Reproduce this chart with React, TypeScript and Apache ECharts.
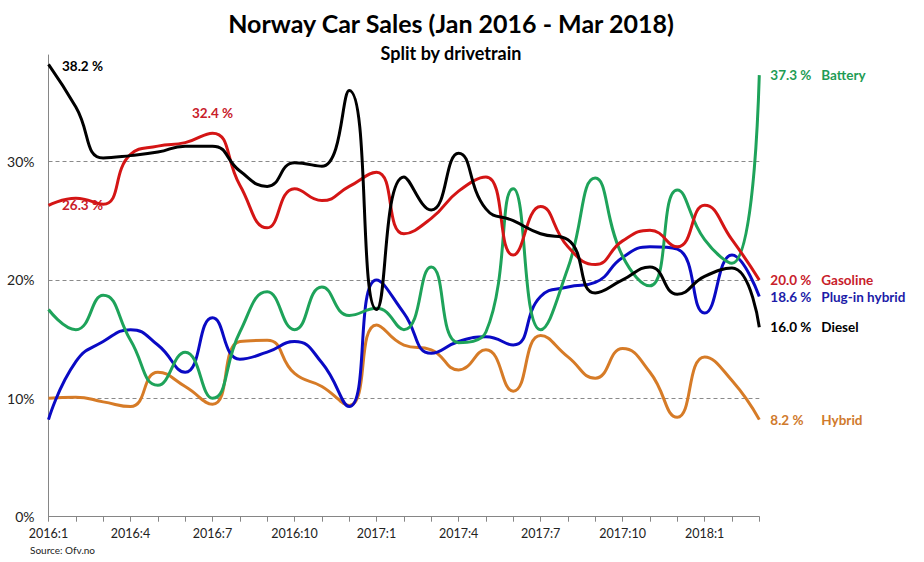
import React, { useEffect, useRef } from "react";
import * as echarts from "echarts";

const months = [
  "2016:1", "2016:2", "2016:3", "2016:4", "2016:5", "2016:6", "2016:7", "2016:8", "2016:9",
  "2016:10", "2016:11", "2016:12", "2017:1", "2017:2", "2017:3", "2017:4", "2017:5", "2017:6",
  "2017:7", "2017:8", "2017:9", "2017:10", "2017:11", "2017:12", "2018:1", "2018:2", "2018:3",
];

// Market share by drivetrain, percent of monthly new-car sales
const diesel = [38.2, 34.6, 30.3, 30.5, 30.8, 31.3, 31.3, 29.2, 27.9, 29.9, 29.6, 36.0, 17.5, 28.7, 25.9, 30.7, 26.0, 25.0, 23.9, 23.4, 18.9, 20.0, 21.1, 18.8, 20.3, 21.0, 16.0];
const gasoline = [26.3, 26.9, 26.4, 30.6, 31.3, 31.6, 32.4, 28.0, 24.4, 27.7, 26.7, 27.9, 29.1, 23.9, 25.2, 27.5, 28.7, 22.1, 26.2, 22.8, 21.3, 23.3, 24.2, 22.8, 26.3, 23.4, 20.0];
const plugin = [8.2, 13.1, 14.8, 15.8, 14.5, 12.2, 16.8, 13.3, 13.9, 14.8, 13.0, 9.3, 20.0, 17.2, 13.8, 14.8, 15.2, 14.5, 18.6, 19.4, 19.8, 21.9, 22.8, 22.6, 17.2, 22.1, 18.6];
const battery = [17.5, 15.8, 18.7, 14.9, 11.1, 13.9, 10.0, 15.6, 19.0, 15.8, 19.4, 17.0, 17.6, 15.8, 21.1, 14.7, 15.6, 27.7, 15.8, 21.0, 28.6, 22.0, 19.5, 27.6, 23.4, 21.4, 37.3];
const hybrid = [10.0, 10.1, 9.7, 9.3, 12.2, 11.0, 9.5, 14.8, 14.9, 12.1, 11.0, 9.4, 16.2, 14.5, 14.1, 12.4, 14.1, 10.6, 15.3, 13.5, 11.7, 14.2, 12.2, 8.4, 13.5, 11.5, 8.2];

const FONT = "Lato, 'Open Sans', sans-serif";
const LABEL_SIZE = 13.5;

const fmt = (v: number) => `${v.toFixed(1)} %`;

function makeSeries(
  name: string,
  data: number[],
  color: string,
  labelColor: string,
  z: number,
  marks: { idx: number; position: string; offset?: number[] }[] = []
) {
  return {
    type: "line",
    name,
    data,
    smooth: 0.5,
    showSymbol: false,
    z,
    lineStyle: { width: 3, color },
    itemStyle: { color },
    endLabel: {
      show: true,
      distance: 11,
      formatter: (p: any) => `{v|${fmt(p.value)}}{n|${name}}`,
      rich: {
        v: { width: 51, color: labelColor, fontSize: LABEL_SIZE, fontWeight: "bold", fontFamily: FONT },
        n: { color: labelColor, fontSize: LABEL_SIZE, fontWeight: "bold", fontFamily: FONT },
      },
    },
    markPoint: marks.length
      ? {
          symbol: "circle",
          symbolSize: 1,
          itemStyle: { color: "rgba(0,0,0,0)" },
          data: marks.map((m) => ({
            coord: [m.idx, data[m.idx]],
            value: data[m.idx],
            label: {
              show: true,
              position: m.position,
              distance: 13,
              offset: m.offset || [0, 0],
              formatter: () => fmt(data[m.idx]),
              color: labelColor,
              fontSize: LABEL_SIZE,
              fontWeight: "bold",
              fontFamily: FONT,
            },
          })),
        }
      : undefined,
  };
}

export default function App() {
  const ref = useRef<HTMLDivElement>(null);

  useEffect(() => {
    if (!ref.current) return;
    const chart = echarts.init(ref.current, null, { renderer: "svg" });
    chart.setOption({
      animation: false,
      backgroundColor: "#ffffff",
      title: [
        {
          text: "Norway Car Sales (Jan 2016 - Mar 2018)",
          left: 446,
          textAlign: "center",
          top: 5,
          textStyle: { fontFamily: FONT, fontSize: 25, fontWeight: "bold", color: "#000" },
        },
        {
          text: "Split by drivetrain",
          left: 446,
          textAlign: "center",
          top: 39,
          textStyle: { fontFamily: FONT, fontSize: 18, fontWeight: "bold", color: "#000" },
        },
      ],
      graphic: [
        {
          type: "text",
          left: 30,
          top: 545,
          style: { text: "Source: Ofv.no", fontFamily: FONT, fontSize: 10, fill: "#222" },
        },
      ],
      grid: { left: 48.5, right: 164.7, top: 55, bottom: 45.3, containLabel: false },
      xAxis: {
        type: "category",
        data: months,
        boundaryGap: false,
        axisLine: { lineStyle: { color: "#868686", width: 1 } },
        axisTick: { show: true, interval: 0, length: 5, lineStyle: { color: "#868686" } },
        axisLabel: {
          interval: 2,
          margin: 10,
          color: "#222",
          fontFamily: FONT,
          fontSize: 12.5,
        },
        splitLine: { show: false },
      },
      yAxis: {
        type: "value",
        min: 0,
        max: 39,
        interval: 10,
        axisLine: { show: true, lineStyle: { color: "#868686", width: 1 } },
        axisTick: { show: false },
        axisLabel: {
          formatter: "{value}%",
          showMaxLabel: false,
          margin: 14,
          color: "#222",
          fontFamily: FONT,
          fontSize: 14,
        },
        splitLine: {
          show: true,
          showMinLine: false,
          showMaxLine: false,
          lineStyle: { color: "#8a8a8a", type: [4, 3], width: 1 },
        },
      },
      series: [
        makeSeries("Hybrid", hybrid, "#d67b27", "#d07a2c", 2),
        makeSeries("Plug-in hybrid", plugin, "#0a0ac4", "#1c1ca8", 3),
        makeSeries("Battery", battery, "#1ea35a", "#1f9c55", 4),
        makeSeries("Gasoline", gasoline, "#d41515", "#c8202a", 5, [
          { idx: 0, position: "right", offset: [0, 0] },
          { idx: 6, position: "top", offset: [0, 0] },
        ]),
        makeSeries("Diesel", diesel, "#000000", "#000000", 6, [
          { idx: 0, position: "right", offset: [0, 2] },
        ]),
      ],
    });
    return () => chart.dispose();
  }, []);

  return (
    <div
      ref={ref}
      style={{ position: "fixed", left: 0, top: 0, width: 924, height: 562, background: "#fff" }}
    />
  );
}
